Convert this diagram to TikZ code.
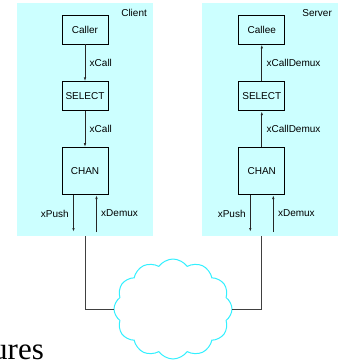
\documentclass[tikz,border=0pt]{standalone}
\usepackage{fontspec}
\setmainfont{Liberation Sans}
\newfontfamily\cutserif{Liberation Serif}
\usepackage{xcolor}
\usepackage{tikz}
\usetikzlibrary{
	positioning,						% Relative positioning
	arrows.meta,						% Arrow tips
	shapes.symbols						% Cloud shape
}
\definecolor{panelcyan}{RGB}{204,255,255}
\definecolor{cloudcyan}{RGB}{51,240,255}

\begin{document}
\begin{tikzpicture}
		[
		,x=1pt, y=1pt
		,font=\fontsize{10}{12}\selectfont
		,panel/.style = {
			,fill=panelcyan
			,minimum width=136pt
			,minimum height=233pt
			,inner sep=0pt
			,anchor=north west}
		,box/.style = {
			,draw=black
			,minimum height=29pt
			,minimum width=46pt
			,inner sep=0pt
			,line width=0.8pt}
		,chanbox/.style = {
			,box
			,minimum height=47pt}
		,flow/.style = {
			,-{Latex[length=4pt, width=2.4pt]}
			,draw=black!85
			,line width=0.8pt}
		,wire/.style = {
			,draw=black!75
			,line width=0.8pt}
		]
		\useasboundingbox (0,0) rectangle (341,-360);
		
		% Panels
		\node [panel] (client) at (17,-3)  {};
		\node [panel] (server) at (202,-3) {};
		\node [below left=3pt and 3pt of client.north east] (clientlbl) {Client};
		\node [below left=3pt and 3pt of server.north east] (serverlbl) {Server};
		
		% Client column
		\node [box] (caller) at (85,-29.5) {Caller};
		\node [box, below=37pt of caller]      (cselect) {SELECT};
		\node [chanbox, below=36pt of cselect] (cchan)   {CHAN};
		
		% Server column
		\node [box, right=130pt of caller]     (callee)  {Callee};
		\node [box, below=37pt of callee]      (sselect) {SELECT};
		\node [chanbox, below=36pt of sselect] (schan)   {CHAN};
		
		% Calls
		\draw [flow] (caller)  -- node [right=1pt] {xCall} (cselect);
		\draw [flow] (cselect) -- node [right=1pt] {xCall} (cchan);
		\draw [flow] (sselect) -- node [right=1pt] {xCallDemux} (callee);
		\draw [flow] (schan)   -- node [right=1pt] {xCallDemux} (sselect);
		
		% Push and demux
		\coordinate [below=37pt of cchan.south, xshift=-11.5pt] (cpush);
		\coordinate [below=37pt of cchan.south, xshift=11.5pt]  (cdemux);
		\coordinate [below=37pt of schan.south, xshift=-11.5pt] (spush);
		\coordinate [below=37pt of schan.south, xshift=11.5pt]  (sdemux);
		\draw [flow] (cchan.south -| cpush) -- node [left=1pt]  {xPush}  (cpush);
		\draw [flow] (cdemux) -- node [right=1pt] {xDemux} (cchan.south -| cdemux);
		\draw [flow] (schan.south -| spush) -- node [left=1pt]  {xPush}  (spush);
		\draw [flow] (sdemux) -- node [right=1pt] {xDemux} (schan.south -| sdemux);
		
		% Network
		\node [cloud, cloud puffs=12, cloud puff arc=110, draw=cloudcyan, fill=white, line width=1pt
		,minimum width=118pt, minimum height=100pt, inner sep=0pt] (net) at (173,-309) {};
		\draw [wire] (client.south) |- (net.west);
		\draw [wire] (schan |- server.south) |- (net.east);
		
		% Cut-off caption
		\node [font=\cutserif\fontsize{31}{31}\selectfont, anchor=base west, inner sep=0pt] (caption) at (-8,-359) {ures};
	\end{tikzpicture}
\end{document}
